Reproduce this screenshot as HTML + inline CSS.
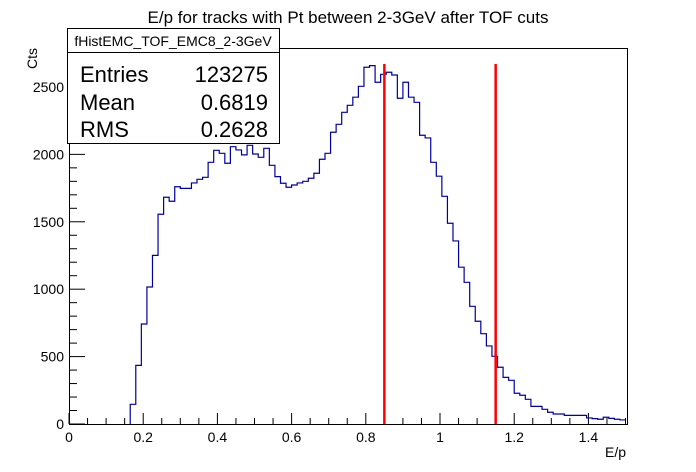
<!DOCTYPE html>
<html><head><meta charset="utf-8"><style>
body{margin:0;background:#fff;}
svg{display:block;font-family:"Liberation Sans",sans-serif;}
</style></head><body>
<svg id="c" width="696" height="472">
<rect x="0" y="0" width="696" height="472" fill="#fff"/>
<text x="348" y="23" text-anchor="middle" font-size="17">E/p for tracks with Pt between 2-3GeV after TOF cuts</text>
<g id="axes"></g>
<g id="hist"></g>
<g id="cuts"></g>
<g>
<rect x="67.5" y="28.5" width="212" height="115" fill="#fff" stroke="#000"/>
<line x1="67.5" y1="52.5" x2="279.5" y2="52.5" stroke="#000"/>
<text x="173" y="46" text-anchor="middle" font-size="14">fHistEMC_TOF_EMC8_2-3GeV</text>
<text x="80" y="82" font-size="22">Entries</text>
<text x="268" y="82" font-size="22" text-anchor="end">123275</text>
<text x="80" y="110" font-size="22">Mean</text>
<text x="268" y="110" font-size="22" text-anchor="end">0.6819</text>
<text x="80" y="137" font-size="22">RMS</text>
<text x="268" y="137" font-size="22" text-anchor="end">0.2628</text>
</g>
</svg>
<script>
const binStart = 11;
const binWidth = 0.015;
const counts = [146,435,742,1016,1251,1556,1682,1652,1760,1748,1748,1788,1815,1830,1941,2030,2008,1934,2057,2033,1996,2067,2003,1978,2045,1919,1835,1786,1756,1773,1788,1800,1823,1860,1964,2008,2164,2223,2312,2364,2424,2505,2646,2658,2535,2594,2609,2589,2416,2535,2424,2386,2142,2122,1941,1838,1689,1489,1358,1163,1051,873,762,670,579,502,421,346,324,228,213,183,131,131,109,87,74,74,64,64,64,64,45,40,35,50,42,35,30];
const xTicks = [0,0.2,0.4,0.6,0.8,1,1.2,1.4];
const xTickLabels = ["0","0.2","0.4","0.6","0.8","1","1.2","1.4"];
const yTicks = [0,500,1000,1500,2000,2500];
const cutPositions = [0.85,1.15];
const cutHeight = 2670;

const X0=69,X1=627,Y0=424,Y1=48,XMAX=1.504,YMAX=2789;
const sx=v=>X0+v/XMAX*(X1-X0);
const sy=v=>Y0-v/YMAX*(Y0-Y1);
const NS="http://www.w3.org/2000/svg";
function mk(tag,attrs,parent){const e=document.createElementNS(NS,tag);for(const k in attrs)e.setAttribute(k,attrs[k]);parent.appendChild(e);return e;}
const axes=document.getElementById('axes');
const frame=mk('rect',{x:X0+.5,y:Y1+.5,width:X1-X0,height:Y0-Y1,fill:'none',stroke:'#000'},axes);


// x ticks
for(let v=0;v<=1.5001;v+=0.05){
  const major=Math.abs(v/0.2-Math.round(v/0.2))<1e-6;
  const t=mk('line',{x1:sx(v),x2:sx(v),y1:Y0,y2:Y0-(major?11:6),stroke:'#000'},axes);
  
  
}
xTicks.forEach((v,i)=>{
  const t=mk('text',{x:sx(v),y:Y0+18,'text-anchor':'middle','font-size':14},axes);
  t.textContent=xTickLabels[i];
  
  
});
for(let v=0;v<=2700;v+=100){
  const major=v%500===0;
  const t=mk('line',{x1:X0,x2:X0+(major?16:8),y1:sy(v),y2:sy(v),stroke:'#000'},axes);
  
  
}
yTicks.forEach(v=>{
  const t=mk('text',{x:X0-5,y:sy(v)+5,'text-anchor':'end','font-size':14},axes);
  t.textContent=String(v);
  
  
});
const xt=mk('text',{x:626,y:457,'text-anchor':'end','font-size':14},axes);
xt.textContent='E/p';


const yt=mk('text',{x:0,y:0,'text-anchor':'end','font-size':14,transform:'translate(37,48) rotate(-90)'},axes);
yt.textContent='Cts';


// histogram
let d='M'+sx(binStart*binWidth)+','+Y0;
counts.forEach((c,i)=>{
  const a=(binStart+i)*binWidth,b=a+binWidth;
  d+=' L'+sx(a)+','+sy(c)+' L'+sx(b)+','+sy(c);
});
d+=' L'+sx((binStart+counts.length)*binWidth)+','+sy(counts[counts.length-1]);
const h=mk('path',{d:d,fill:'none',stroke:'#0000a0','stroke-width':1.2},document.getElementById('hist'));


cutPositions.forEach(v=>{
  const l=mk('line',{x1:sx(v),x2:sx(v),y1:Y0,y2:sy(cutHeight),stroke:'#ff0000','stroke-width':2.5},document.getElementById('cuts'));
  
  
});
</script>
</body></html>
